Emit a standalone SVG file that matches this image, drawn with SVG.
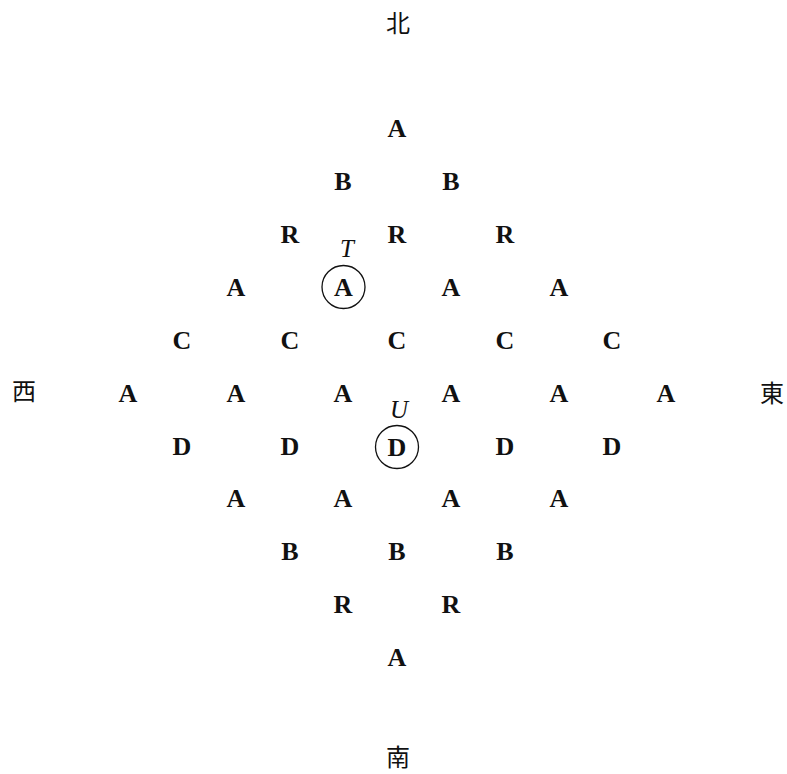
<svg xmlns="http://www.w3.org/2000/svg" width="787" height="774" viewBox="0 0 787 774">
<style>
.l{font-family:"Liberation Serif","Times New Roman",serif;font-weight:bold;font-size:26px;text-anchor:middle;fill:#111}
.i{font-family:"Liberation Serif","Times New Roman",serif;font-style:italic;font-size:25px;text-anchor:middle;fill:#111}
.k{font-family:"Liberation Serif","Noto Sans CJK JP",serif;font-size:24px;text-anchor:middle;fill:#111}
.c{fill:none;stroke:#111;stroke-width:1.3}
</style>
<rect width="787" height="774" fill="#fff"/>
<g id="directions">
<text class="k" x="398" y="32">北</text>
<text class="k" x="398" y="766">南</text>
<text class="k" x="24" y="400">西</text>
<text class="k" x="772" y="402">東</text>
</g>
<g id="row1"><text class="l" x="397" y="137">A</text></g>
<g id="row2"><text class="l" x="343" y="190">B</text><text class="l" x="451" y="190">B</text></g>
<g id="row3"><text class="l" x="290" y="243">R</text><text class="l" x="397" y="243">R</text><text class="l" x="505" y="243">R</text></g>
<g id="row4"><text class="l" x="236" y="296">A</text><text class="l" x="451" y="296">A</text><text class="l" x="559" y="296">A</text></g>
<g id="nodeT">
<text class="i" x="347" y="257">T</text>
<circle class="c" cx="343.5" cy="287" r="21.5"/>
<text class="l" x="343.5" y="296">A</text>
</g>
<g id="row5"><text class="l" x="182" y="349">C</text><text class="l" x="290" y="349">C</text><text class="l" x="397" y="349">C</text><text class="l" x="505" y="349">C</text><text class="l" x="612" y="349">C</text></g>
<g id="row6"><text class="l" x="128" y="402">A</text><text class="l" x="236" y="402">A</text><text class="l" x="343" y="402">A</text><text class="l" x="451" y="402">A</text><text class="l" x="559" y="402">A</text><text class="l" x="666" y="402">A</text></g>
<g id="row7"><text class="l" x="182" y="455">D</text><text class="l" x="290" y="455">D</text><text class="l" x="505" y="455">D</text><text class="l" x="612" y="455">D</text></g>
<g id="nodeU">
<text class="i" x="399" y="418">U</text>
<circle class="c" cx="397" cy="447" r="21.5"/>
<text class="l" x="397" y="456">D</text>
</g>
<g id="row8"><text class="l" x="236" y="507">A</text><text class="l" x="343" y="507">A</text><text class="l" x="451" y="507">A</text><text class="l" x="559" y="507">A</text></g>
<g id="row9"><text class="l" x="290" y="560">B</text><text class="l" x="397" y="560">B</text><text class="l" x="505" y="560">B</text></g>
<g id="row10"><text class="l" x="343" y="613">R</text><text class="l" x="451" y="613">R</text></g>
<g id="row11"><text class="l" x="397" y="666">A</text></g>
<g id="connectors"></g>
</svg>
